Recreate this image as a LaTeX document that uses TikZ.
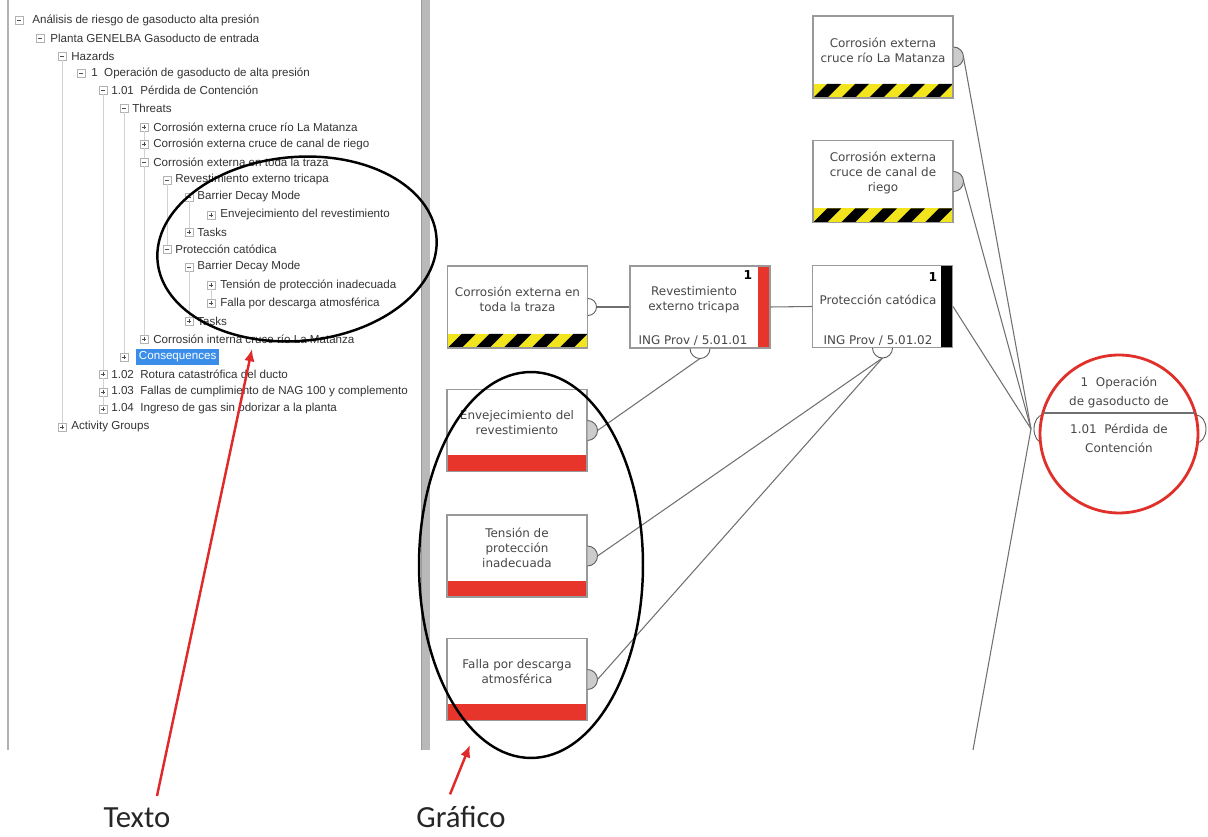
\documentclass[tikz,border=0pt]{standalone}
\usepackage{fontspec}
\newfontfamily\boxfont{DejaVu Sans}
\newfontfamily\treefont{Liberation Sans}
\newfontfamily\notefont{Carlito}
\definecolor{hazyellow}{HTML}{F2E51D}
\definecolor{barred}{HTML}{E8352B}
\definecolor{hazred}{HTML}{E0302A}
\definecolor{pointred}{HTML}{E02A2A}
\definecolor{selblue}{HTML}{3A8EEA}
\definecolor{linegray}{HTML}{707070}
\usetikzlibrary{positioning, calc, arrows.meta, shapes.geometric}
\tikzset{
	boxnode/.style={
			rectangle,
			draw=gray!80,
			line width=0.6pt,
			fill=white,
			minimum width=2.8cm,
			minimum height=1.64cm,
			inner sep=0pt
		},
	threatnode/.style={
			boxnode,
			path picture={
				\fill[hazyellow] (path picture bounding box.south west) rectangle ([yshift=0.28cm]path picture bounding box.south east);
				\begin{scope}
					\clip (path picture bounding box.south west) rectangle ([yshift=0.28cm]path picture bounding box.south east);
					\foreach \k in {-1,...,5}
					\fill[black] ([xshift=\k*0.56cm]path picture bounding box.south west) -- ++(0.28cm,0cm) -- ++(0.28cm,0.28cm) -- ++(-0.28cm,0cm) -- cycle;
				\end{scope}
			}
		},
	barriernode/.style={
			boxnode,
			path picture={
				\fill[barred] (path picture bounding box.south west) rectangle ([yshift=0.32cm]path picture bounding box.south east);
			}
		},
	controlnode/.style={
			boxnode,
			path picture={
				\fill[#1] ([xshift=-0.23cm]path picture bounding box.north east) rectangle (path picture bounding box.south east);
			}
		},
	hazardnode/.style={
			circle,
			draw=hazred,
			line width=1.6pt,
			fill=white,
			minimum size=3.16cm,
			inner sep=0pt
		},
	knobfill/.style={draw=gray!70!black, fill=gray!40, line width=0.5pt},
	knobopen/.style={draw=gray!70!black, fill=white, line width=0.5pt},
	link/.style={draw=linegray, line width=0.6pt},
	boxtext/.style={
			font=\boxfont\fontsize{6.8}{8.5}\selectfont,
			text=black!72,
			align=center,
			inner sep=0pt
		},
	circtext/.style={
			boxtext,
			font=\boxfont\fontsize{6.8}{10.7}\selectfont
		},
	tagtext/.style={boxtext, anchor=base},
	ranktext/.style={
			font=\boxfont\bfseries\fontsize{7}{8}\selectfont,
			text=black,
			inner sep=0pt
		},
	treenode/.style={
			anchor=west,
			font=\treefont\fontsize{6.6}{8}\selectfont,
			text=black!80,
			inner sep=0pt
		},
	expandminus/.style={
			rectangle,
			draw=gray!60,
			fill=white,
			line width=0.4pt,
			minimum size=0.16cm,
			inner sep=0pt,
			path picture={
				\draw[black!70, line width=0.5pt] ([xshift=0.035cm]path picture bounding box.west) -- ([xshift=-0.035cm]path picture bounding box.east);
			}
		},
	expandplus/.style={
			expandminus,
			path picture={
				\draw[black!70, line width=0.5pt] ([xshift=0.035cm]path picture bounding box.west) -- ([xshift=-0.035cm]path picture bounding box.east);
				\draw[black!70, line width=0.5pt] ([yshift=-0.035cm]path picture bounding box.north) -- ([yshift=0.035cm]path picture bounding box.south);
			}
		},
	guide/.style={draw=gray!35, line width=0.5pt},
	ring/.style={draw=black, line width=1.4pt},
	pointer/.style={draw=pointred, line width=1.4pt, -{Latex[length=7pt,width=6pt]}},
	notetext/.style={
			font=\notefont\fontsize{17.5}{20}\selectfont,
			text=black!85,
			anchor=base,
			inner sep=0pt
		}
}

\begin{document}
\begin{tikzpicture}[x=0.02cm, y=-0.02cm]
\useasboundingbox (0,0) rectangle (1208,837);

% panels
\draw[gray!60, line width=0.8pt] (8,0) -- (8,750);
\fill[gray!55] (422,0) rectangle (430,750);
\draw[gray!80, line width=0.5pt] (421,0) -- (421,750);

% tree view
\node[expandminus] (e1) at (19,20) {};
\node[expandminus] (e2) at (40,38) {};
\node[expandminus] (e3) at (62,56) {};
\node[expandminus] (e4) at (81,73) {};
\node[expandminus] (e5) at (103,90) {};
\node[expandminus] (e6) at (124,108) {};
\node[expandplus] (e7) at (144,127) {};
\node[expandplus] (e8) at (144,144) {};
\node[expandminus] (e9) at (144,162) {};
\node[expandminus] (e10) at (167,180) {};
\node[expandminus] (e11) at (189,197) {};
\node[expandplus] (e12) at (211,215) {};
\node[expandplus] (e13) at (189,232) {};
\node[expandminus] (e14) at (167,249) {};
\node[expandminus] (e15) at (189,267) {};
\node[expandplus] (e16) at (211,285) {};
\node[expandplus] (e17) at (211,303) {};
\node[expandplus] (e18) at (189,321) {};
\node[expandplus] (e19) at (144,339) {};
\node[expandplus] (e20) at (124,357) {};
\node[expandplus] (e21) at (103,374) {};
\node[expandplus] (e22) at (103,392) {};
\node[expandplus] (e23) at (103,409) {};
\node[expandplus] (e24) at (62,427) {};

\draw[guide] (e3) -- (e24);
\draw[guide] (e5) -- (e21);
\draw[guide] (e21) -- (e22);
\draw[guide] (e22) -- (e23);
\draw[guide] (e6) -- (e20);
\draw[guide] (e7) -- (e8);
\draw[guide] (e8) -- (e9);
\draw[guide] (e9) -- (e19);
\draw[guide] (e10) -- (e14);
\draw[guide] (e11) -- (e13);
\draw[guide] (e15) -- (e18);
\draw[guide] (e16) -- (e17);

\node[treenode] (t1) at (32,20) {Análisis de riesgo de gasoducto alta presión};
\node[treenode] (t2) at (50,38) {Planta GENELBA Gasoducto de entrada};
\node[treenode] (t3) at (71,56) {Hazards};
\node[treenode] (t4) at (91,73) {1\ \ Operación de gasoducto de alta presión};
\node[treenode] (t5) at (111,90) {1.01\ \ Pérdida de Contención};
\node[treenode] (t6) at (132,108) {Threats};
\node[treenode] (t7) at (153,127) {Corrosión externa cruce río La Matanza};
\node[treenode] (t8) at (153,144) {Corrosión externa cruce de canal de riego};
\node[treenode] (t9) at (153,162) {Corrosión externa en toda la traza};
\node[treenode] (t10) at (175,180) {Revestimiento externo tricapa};
\node[treenode] (t11) at (197,197) {Barrier Decay Mode};
\node[treenode] (t12) at (220,215) {Envejecimiento del revestimiento};
\node[treenode] (t13) at (197,232) {Tasks};
\node[treenode] (t14) at (175,249) {Protección catódica};
\node[treenode] (t15) at (197,267) {Barrier Decay Mode};
\node[treenode] (t16) at (220,285) {Tensión de protección inadecuada};
\node[treenode] (t17) at (220,303) {Falla por descarga atmosférica};
\node[treenode] (t18) at (197,321) {Tasks};
\node[treenode] (t19) at (153,339) {Corrosión interna cruce río La Matanza};
\node[treenode, fill=selblue, text=white, inner xsep=1.5pt, minimum height=0.32cm] (t20) at (136,357) {Consequences};
\node[treenode] (t21) at (111,374) {1.02\ \ Rotura catastrófica del ducto};
\node[treenode] (t22) at (111,392) {1.03\ \ Fallas de cumplimiento de NAG 100 y complemento};
\node[treenode] (t23) at (111,409) {1.04\ \ Ingreso de gas sin odorizar a la planta};
\node[treenode] (t24) at (71,427) {Activity Groups};

% bowtie graphic
\node[threatnode] (riomat) at (883,57) {};
\node[boxtext] (riomat-t) at (883,50) {Corrosión externa\\cruce río La Matanza};
\node[threatnode] (canal) at (883,181.5) {};
\node[boxtext] (canal-t) at (883,173) {Corrosión externa\\cruce de canal de\\riego};
\node[threatnode] (traza) at (517.5,307) {};
\node[boxtext] (traza-t) at (517.5,299.5) {Corrosión externa en\\toda la traza};

\node[controlnode=barred] (revest) at (700,307) {};
\node[boxtext] (revest-t) at (694,300) {Revestimiento\\externo tricapa};
\node[ranktext] (revest-n) at (748,275) {1};
\node[tagtext] (revest-c) at (693,345) {ING Prov / 5.01.01};
\node[controlnode=black] (catodica) at (882.5,306.5) {};
\node[boxtext] (catodica-t) at (878,300) {Protección catódica};
\node[ranktext] (catodica-n) at (933,277) {1};
\node[tagtext] (catodica-c) at (878,345) {ING Prov / 5.01.02};

\node[barriernode] (envej) at (517,430.5) {};
\node[boxtext] (envej-t) at (517,423) {Envejecimiento del\\revestimiento};
\node[barriernode] (tension) at (517,556) {};
\node[boxtext] (tension-t) at (517,548) {Tensión de\\protección\\inadecuada};
\node[barriernode] (descarga) at (517,679.5) {};
\node[boxtext] (descarga-t) at (517,671.5) {Falla por descarga\\atmosférica};

% knobs
\draw[knobfill] ([yshift=0.2cm]riomat.east) arc[start angle=90, end angle=-90, radius=0.2cm];
\draw[knobfill] ([yshift=0.2cm]canal.east) arc[start angle=90, end angle=-90, radius=0.2cm];
\draw[knobopen] ([yshift=0.17cm]traza.east) arc[start angle=90, end angle=-90, radius=0.17cm];
\draw[knobfill] ([yshift=0.2cm]envej.east) arc[start angle=90, end angle=-90, radius=0.2cm];
\draw[knobfill] ([yshift=0.2cm]tension.east) arc[start angle=90, end angle=-90, radius=0.2cm];
\draw[knobfill] ([yshift=0.2cm]descarga.east) arc[start angle=90, end angle=-90, radius=0.2cm];
\draw[knobopen] ([xshift=-0.2cm]revest.south) arc[start angle=180, end angle=360, radius=0.2cm];
\draw[knobopen] ([xshift=-0.2cm]catodica.south) arc[start angle=180, end angle=360, radius=0.2cm];

\coordinate (riomat-k) at ([xshift=0.2cm]riomat.east);
\coordinate (canal-k) at ([xshift=0.2cm]canal.east);
\coordinate (traza-k) at ([xshift=0.17cm]traza.east);
\coordinate (envej-k) at ([xshift=0.2cm]envej.east);
\coordinate (tension-k) at ([xshift=0.2cm]tension.east);
\coordinate (descarga-k) at ([xshift=0.2cm]descarga.east);
\coordinate (revest-k) at ([yshift=-0.2cm]revest.south);
\coordinate (catodica-k) at ([yshift=-0.2cm]catodica.south);
\coordinate (hub) at (1031,429);
\coordinate (tail) at (973,750);

% top event
\coordinate (hazard-l) at (1043,429);
\coordinate (hazard-r) at (1196,429);
\draw[knobopen] ([yshift=0.28cm]hazard-l) arc[start angle=90, end angle=270, x radius=0.18cm, y radius=0.28cm];
\draw[knobopen] ([yshift=0.28cm]hazard-r) arc[start angle=90, end angle=-90, x radius=0.2cm, y radius=0.28cm];
\node[hazardnode] (hazard) at (1119,434) {};
\draw[link, line width=0.8pt] ($(hazard.center)+(-76,-21)$) -- ($(hazard.center)+(76,-21)$);
\node[circtext] (hazard-t) at (1119,392.5) {1\ \ Operación\\de gasoducto de};
\node[circtext] (hazard-b) at (1119,438.5) {1.01\ \ Pérdida de\\Contención};

% connections
\draw[link] (traza-k) -- (revest.west);
\draw[link] (revest.east) -- (catodica.west);
\draw[link] (riomat-k) -- (hub);
\draw[link] (canal-k) -- (hub);
\draw[link] (catodica.east) -- (hub);
\draw[link] (hub) -- (tail);
\draw[link] (envej-k) -- (revest-k);
\draw[link] (tension-k) -- (catodica-k);
\draw[link] (descarga-k) -- (catodica-k);

% annotations
\draw[ring, rotate around={5:(297,249)}] (297,249) ellipse [x radius=2.8cm, y radius=1.84cm];
\draw[ring] (531,565) ellipse [x radius=2.24cm, y radius=3.86cm];

\node[notetext] (texto) at (137,828) {Texto};
\node[notetext] (grafico) at (461,828) {Gráfico};
\coordinate (texto-tip) at (252,349);
\coordinate (grafico-tip) at (470,745);
\draw[pointer] ([xshift=0.4cm, yshift=0.24cm]texto.north) -- (texto-tip);
\draw[pointer] ([xshift=-0.22cm, yshift=0.24cm]grafico.north) -- (grafico-tip);
\end{tikzpicture}
\end{document}
